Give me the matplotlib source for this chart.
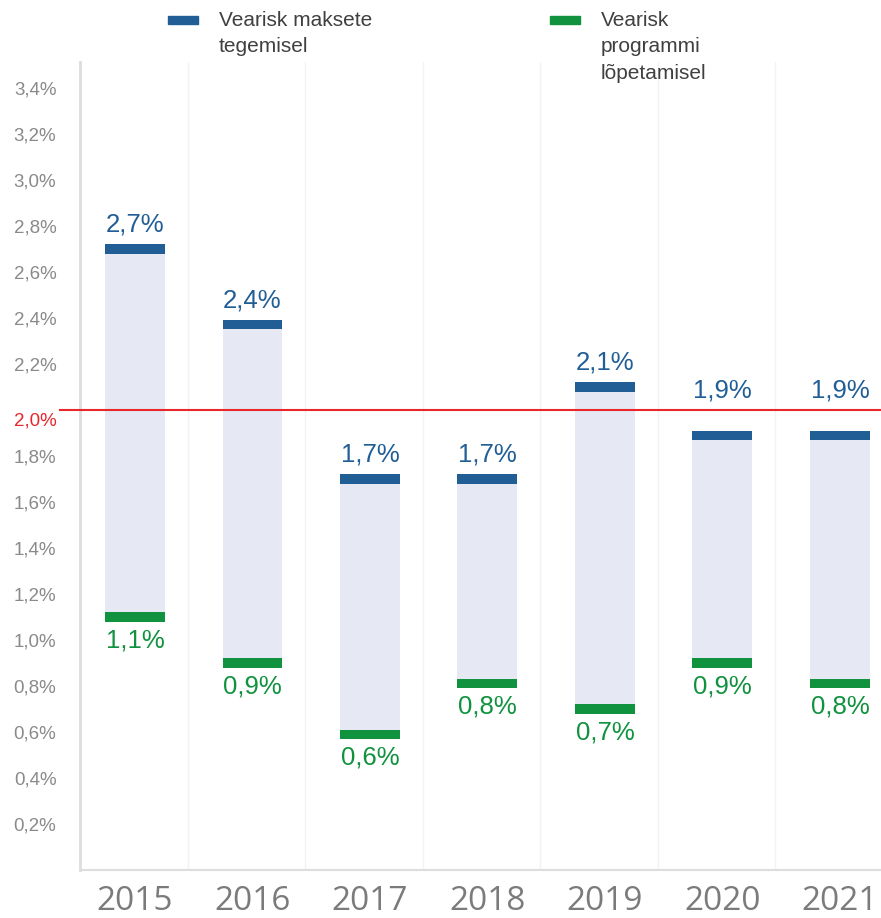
import matplotlib
matplotlib.use("Agg")
import matplotlib.pyplot as plt
from matplotlib.patches import Rectangle

plt.rcParams["font.family"] = ["Liberation Sans", "DejaVu Sans"]

# data
years = ["2015", "2016", "2017", "2018", "2019", "2020", "2021"]
risk_pay = [2.70, 2.37, 1.70, 1.70, 2.10, 1.89, 1.89]      # blue markers
risk_end = [1.10, 0.90, 0.59, 0.81, 0.70, 0.90, 0.81]      # green markers
pay_labels = ["2,7%", "2,4%", "1,7%", "1,7%", "2,1%", "1,9%", "1,9%"]
end_labels = ["1,1%", "0,9%", "0,6%", "0,8%", "0,7%", "0,9%", "0,8%"]
yticks = [0.2, 0.4, 0.6, 0.8, 1.0, 1.2, 1.4, 1.6, 1.8, 2.2, 2.4, 2.6,
          2.8, 3.0, 3.2, 3.4]
threshold = 2.0
leg_pay = "Vearisk maksete\ntegemisel"
leg_end = "Vearisk\nprogrammi\nlõpetamisel"

BLUE = "#215e96"
GREEN = "#10923f"
BAND = "#e6e9f3"
RED = "#e8262b"
GRAY = "#8a8a8a"

W, H = 881, 918
fig = plt.figure(figsize=(W / 100, H / 100), dpi=100)
ax = fig.add_axes([80 / W, 48 / H, 801 / W, 808 / H])

x = list(range(len(years)))
bw = 0.51
mh = 0.04  # marker thickness in data units
px = 3.513 / 808  # data units per pixel on y

heights = [p - e for p, e in zip(risk_pay, risk_end)]
ax.bar(x, heights, bottom=risk_end, width=bw, color=BAND, zorder=2)
ax.bar(x, [mh] * len(x), bottom=[p - mh / 2 for p in risk_pay], width=bw,
       color=BLUE, zorder=3)
ax.bar(x, [mh] * len(x), bottom=[e - mh / 2 for e in risk_end], width=bw,
       color=GREEN, zorder=3)

for xi, p, e, lp, le in zip(x, risk_pay, risk_end, pay_labels, end_labels):
    # keep blue labels clear of the 2% line
    base = p + mh / 2 + 8 * px
    if base < threshold + 7 * px and base + 24 * px > threshold:
        base = threshold + 7 * px
    ax.text(xi, base, lp, ha="center", va="bottom", color=BLUE,
            fontsize=18.5)
    ax.annotate(le, (xi, e), xytext=(0, -8), textcoords="offset points",
                ha="center", va="top", color=GREEN, fontsize=18.5)

# vertical separators between categories
for xi in x[:-1]:
    ax.axvline(xi + 0.45, color="#f2f2f2", lw=1, zorder=1)

ax.axhline(threshold, xmin=-20 / 801, xmax=1, color=RED, lw=1.5,
           clip_on=False, zorder=4)

ax.set_xlim(-0.468, 6.35)
ax.set_ylim(0, 3.513)
ax.set_yticks(yticks)
ax.set_yticklabels([f"{v:.1f}".replace(".", ",") + "%" for v in yticks],
                   color=GRAY, fontsize=13.5)
ax.text(-0.468 - 23 / 117.5, threshold - 0.01,
        f"{threshold:.1f}".replace(".", ",") + "%",
        color=RED, fontsize=13.5, ha="right", va="top", clip_on=False)

ax.set_xticks(x)
ax.set_xticklabels(years, fontsize=24, color="#7b7b7b",
                   family=["Open Sans", "DejaVu Sans"])
ax.tick_params(axis="both", length=0)
ax.tick_params(axis="y", pad=17)
ax.tick_params(axis="x", pad=11)

for side in ["top", "right"]:
    ax.spines[side].set_visible(False)
ax.spines["left"].set_color("#dddddd")
ax.spines["left"].set_linewidth(2)
ax.spines["bottom"].set_color("#dddddd")
ax.spines["bottom"].set_linewidth(1.5)

# legend drawn by hand
for x0, color, text in [(168, BLUE, leg_pay), (550, GREEN, leg_end)]:
    fig.patches.append(Rectangle((x0 / W, 1 - 24 / H), 30 / W, 8 / H,
                                 transform=fig.transFigure, color=color))
    fig.text((x0 + 51) / W, 1 - 11 / H, text, ha="left", va="top",
             fontsize=15, color="#404040", linespacing=1.5)

fig.savefig("out.png", dpi=100)
